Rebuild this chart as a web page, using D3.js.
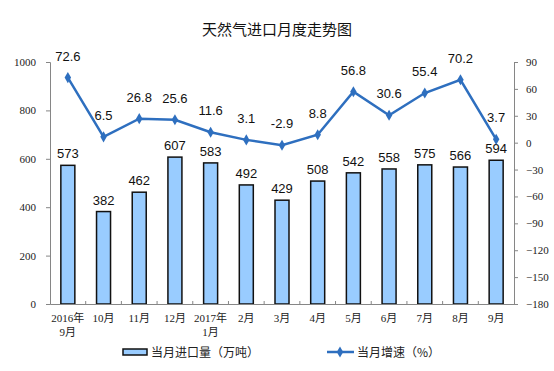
<!DOCTYPE html>
<html>
<head>
<meta charset="utf-8">
<script src="https://cdn.jsdelivr.net/npm/d3@7"></script>
<style>
  body { margin: 0; background: #fff; }
  .tick text { font-family: "Liberation Serif", "Noto Sans CJK SC", serif; font-size: 11px; fill: #222; }
  .lbl { font-family: "Liberation Sans", Arial, sans-serif; font-size: 13px; fill: #111; }
</style>
</head>
<body>
<div id="chart"></div>
<script>
var months = ["2016年|9月", "10月", "11月", "12月", "2017年|1月", "2月", "3月", "4月", "5月", "6月", "7月", "8月", "9月"];
var importVol = [573, 382, 462, 607, 583, 492, 429, 508, 542, 558, 575, 566, 594];
var growth = [72.6, 6.5, 26.8, 25.6, 11.6, 3.1, -2.9, 8.8, 56.8, 30.6, 55.4, 70.2, 3.7];
var leftTicks = [0, 200, 400, 600, 800, 1000];
var rightTicks = [-180, -150, -120, -90, -60, -30, 0, 30, 60, 90];

var width = 554, height = 371;
var plotLeft = 50, plotRight = 514, plotTop = 62, plotBottom = 304;

var svg = d3.select("#chart").append("svg")
  .attr("width", width)
  .attr("height", height);

var x = d3.scaleBand().domain(months).range([plotLeft, plotRight]);
var yL = d3.scaleLinear().domain([0, 1000]).range([plotBottom, plotTop]);
var yR = d3.scaleLinear().domain([-180, 90]).range([plotBottom, plotTop]);

// title
svg.append("text")
  .attr("x", 277).attr("y", 35)
  .attr("text-anchor", "middle")
  .style("font-family", "'Noto Sans CJK SC', sans-serif")
  .style("font-size", "15px")
  .style("fill", "#111")
  .text("天然气进口月度走势图");

// bars
var bw = 14;
svg.selectAll("rect.bar")
  .data(importVol)
  .enter()
  .append("rect")
  .attr("class", "bar")
  .attr("x", (d, i) => x(months[i]) + x.bandwidth() / 2 - bw / 2)
  .attr("y", d => yL(d))
  .attr("width", bw)
  .attr("height", d => plotBottom - yL(d))
  .attr("fill", "#99ccff")
  .attr("stroke", "#111")
  .attr("stroke-width", 1.5);

// axes
var axisColor = "#868686";
var gL = svg.append("g")
  .attr("transform", `translate(${plotLeft},0)`)
  .call(d3.axisLeft(yL).tickValues(leftTicks).tickFormat(d3.format("d")).tickSize(4).tickPadding(10));
var gR = svg.append("g")
  .attr("transform", `translate(${plotRight},0)`)
  .call(d3.axisRight(yR).tickValues(rightTicks).tickSize(4).tickPadding(8));
var gX = svg.append("g")
  .attr("transform", `translate(0,${plotBottom})`)
  .call(d3.axisBottom(x).tickSize(0).tickPadding(10).tickFormat(""));

[gL, gR, gX].forEach(function(g) {
  g.select(".domain").attr("stroke", axisColor);
  g.selectAll(".tick line").attr("stroke", axisColor);
});

// small ticks between categories
svg.selectAll("line.xt")
  .data(months.slice(1))
  .enter()
  .append("line")
  .attr("x1", d => x(d)).attr("x2", d => x(d))
  .attr("y1", plotBottom).attr("y2", plotBottom - 3)
  .attr("stroke", axisColor);

// x labels (two-line)
gX.selectAll(".tick").each(function(d) {
  var parts = d.split("|");
  var t = d3.select(this).append("text")
    .attr("y", 18)
    .attr("text-anchor", "middle")
    .style("font-family", "'Liberation Serif', 'Noto Sans CJK SC', serif")
    .style("font-size", "11px")
    .style("fill", "#222");
  parts.forEach(function(p, k) {
    t.append("tspan").attr("x", 0).attr("dy", k == 0 ? 0 : 14).text(p);
  });
});

// bar labels
svg.selectAll("text.bl")
  .data(importVol)
  .enter()
  .append("text")
  .attr("class", "lbl")
  .attr("x", (d, i) => x(months[i]) + x.bandwidth() / 2)
  .attr("y", d => yL(d) - 7)
  .attr("text-anchor", "middle")
  .text(d => d);

// growth line
var cx = (d, i) => x(months[i]) + x.bandwidth() / 2;
var line = d3.line().x(cx).y(d => yR(d));
svg.append("path")
  .datum(growth)
  .attr("d", line)
  .attr("fill", "none")
  .attr("stroke", "#2e6fbf")
  .attr("stroke-width", 2.5);

var diamond = d3.symbol().type(d3.symbolDiamond).size(36);
svg.selectAll("path.mk")
  .data(growth)
  .enter()
  .append("path")
  .attr("d", diamond)
  .attr("transform", (d, i) => `translate(${cx(d, i)},${yR(d)})`)
  .attr("fill", "#2e6fbf");

svg.selectAll("text.gl")
  .data(growth)
  .enter()
  .append("text")
  .attr("class", "lbl")
  .attr("x", (d, i) => cx(d, i))
  .attr("y", d => yR(d) - 17)
  .attr("text-anchor", "middle")
  .text(d => d.toFixed(1));

// legend
var lg = svg.append("g");
lg.append("rect")
  .attr("x", 123).attr("y", 349)
  .attr("width", 24).attr("height", 6)
  .attr("fill", "#99ccff").attr("stroke", "#111").attr("stroke-width", 1.5);
lg.append("text")
  .attr("x", 151).attr("y", 357)
  .style("font-family", "'Noto Sans CJK SC', sans-serif")
  .style("font-size", "12px").style("fill", "#222")
  .text("当月进口量（万吨）");
lg.append("line")
  .attr("x1", 327).attr("x2", 354).attr("y1", 352).attr("y2", 352)
  .attr("stroke", "#2e6fbf").attr("stroke-width", 2.5);
lg.append("path")
  .attr("d", diamond)
  .attr("transform", "translate(340,352)")
  .attr("fill", "#2e6fbf");
lg.append("text")
  .attr("x", 357).attr("y", 357)
  .style("font-family", "'Noto Sans CJK SC', sans-serif")
  .style("font-size", "12px").style("fill", "#222")
  .text("当月增速（%）");
</script>
</body>
</html>
